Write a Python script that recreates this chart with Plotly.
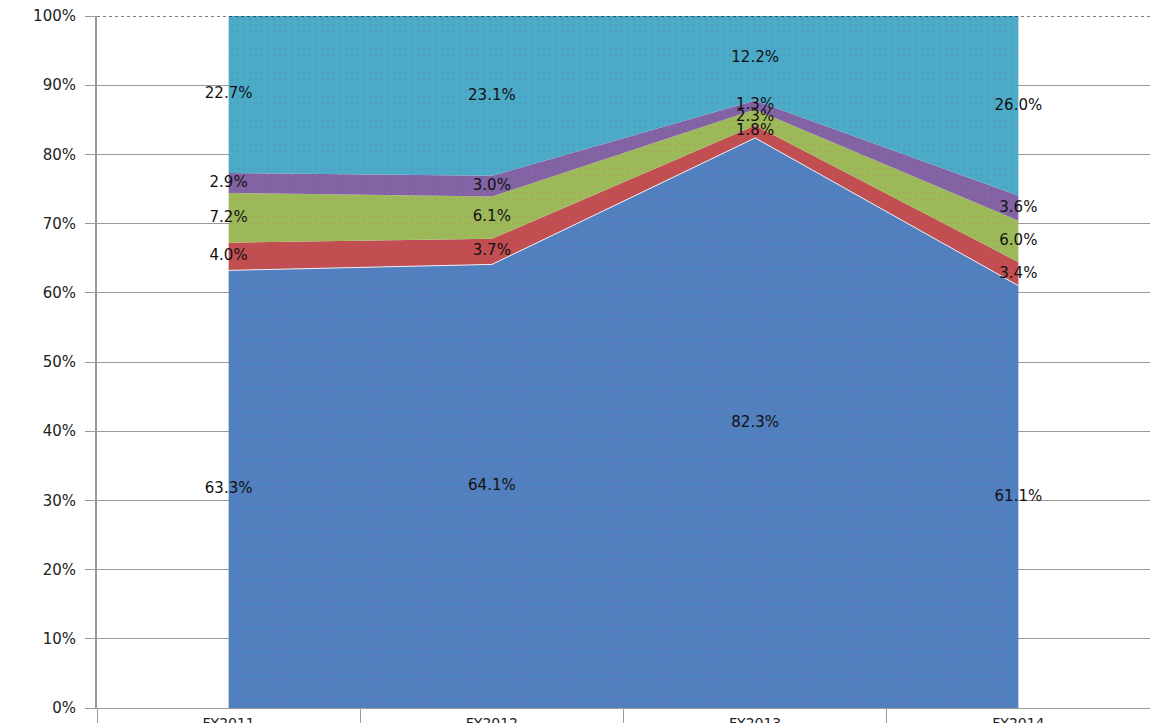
import plotly.graph_objects as go

categories = ["FY2011", "FY2012", "FY2013", "FY2014"]
series_names = ["Series 1", "Series 2", "Series 3", "Series 4", "Series 5"]
blue = [63.3, 64.1, 82.3, 61.1]
red = [4.0, 3.7, 1.8, 3.4]
green = [7.2, 6.1, 2.3, 6.0]
purple = [2.9, 3.0, 1.3, 3.6]
teal = [22.7, 23.1, 12.2, 26.0]
y_ticks = [0, 10, 20, 30, 40, 50, 60, 70, 80, 90, 100]
y_tick_labels = ["0%", "10%", "20%", "30%", "40%", "50%", "60%", "70%", "80%", "90%", "100%"]

series = [blue, red, green, purple, teal]
colors = ["#4F81BD", "#C0504D", "#9BBB59", "#8064A2", "#4BACC6"]
dots = ["#6a6fd0", "#d0407a", "#b0a060", "#9a5ab8", "#5a8fd0"]

fig = go.Figure()
for i, (vals, col) in enumerate(zip(series, colors)):
    fig.add_trace(go.Scatter(
        x=categories, y=vals, name=series_names[i], mode="lines",
        stackgroup="one", groupnorm="percent",
        line=dict(width=1 if i == 0 else 0, color="#e8eef6" if i == 0 else col),
        fillcolor=col,
        fillpattern=dict(shape=".", fgcolor=dots[i], bgcolor=col, size=6, solidity=0.2),
        hoverinfo="skip", showlegend=False,
    ))

# data labels at band middles
cum = [0.0] * len(categories)
for vals in series:
    tot = [sum(s[j] for s in series) for j in range(len(categories))]
    mids = []
    for j in range(len(categories)):
        v = vals[j] / tot[j] * 100
        mids.append(cum[j] + v / 2)
        cum[j] += v
    fig.add_trace(go.Scatter(
        x=categories, y=mids, mode="text",
        text=[f"{v:.1f}%" for v in vals],
        textposition="middle center",
        textfont=dict(family="DejaVu Sans", size=15, color="#111111"),
        hoverinfo="skip", showlegend=False,
    ))

fig.add_shape(type="line", xref="paper", yref="y", x0=0, x1=1, y0=100, y1=100,
              line=dict(color="#000000", width=1, dash="dot"))

fig.update_layout(
    width=1150, height=723,
    margin=dict(l=97, r=0, t=16, b=15),
    paper_bgcolor="white", plot_bgcolor="white",
    font=dict(family="DejaVu Sans", size=15, color="#222222"),
    xaxis=dict(
        type="category", range=[-0.5, 3.5], showgrid=False,
        showline=True, linecolor="#9a9a9a", linewidth=1,
        ticks="outside", tickson="boundaries", ticklen=20, tickcolor="#9a9a9a",
        ticklabelstandoff=2, tickfont=dict(size=14, color="#222222"),
        automargin=False, fixedrange=True,
    ),
    yaxis=dict(
        range=[0, 100], tickvals=y_ticks, ticktext=y_tick_labels,
        showgrid=True, gridcolor="#9a9a9a", gridwidth=1,
        showline=True, linecolor="#9a9a9a", linewidth=2,
        ticks="outside", ticklen=10, tickcolor="#9a9a9a",
        ticklabelstandoff=6,
        tickfont=dict(size=15, color="#222222"),
        zeroline=False, automargin=False, fixedrange=True,
    ),
)

fig.write_html(
    "out.html",
    config={"displayModeBar": False, "staticPlot": True},
    post_script="document.body.style.margin='0';document.body.style.overflow='hidden';",
)
